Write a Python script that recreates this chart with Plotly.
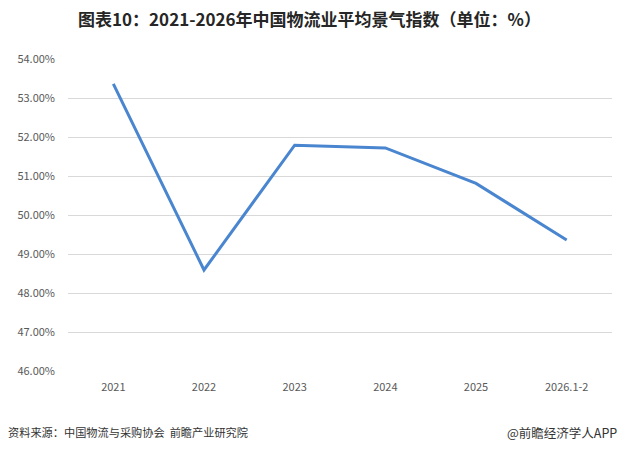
import plotly.graph_objects as go

categories = ["2021", "2022", "2023", "2024", "2025", "2026.1-2"]
values = [53.36, 48.59, 51.79, 51.72, 50.81, 49.36]
y_ticks = [46, 47, 48, 49, 50, 51, 52, 53, 54]
y_tick_labels = [f"{v:.2f}%" for v in y_ticks]

FONT = "Noto Sans CJK SC"

fig = go.Figure()
fig.add_trace(go.Scatter(
    x=categories, y=values, mode="lines",
    line=dict(color="#4A86D0", width=3),
    hoverinfo="skip",
))

fig.update_layout(
    width=619, height=452,
    margin=dict(l=68, r=7, t=59, b=81),
    paper_bgcolor="white", plot_bgcolor="white",
    showlegend=False,
    font=dict(family=FONT, color="#595959", size=11),
    title=dict(
        text="<b>图表10：2021-2026年中国物流业平均景气指数（单位：%）</b>",
        x=0.5, xanchor="center", y=0.955, yanchor="middle",
        font=dict(family=FONT, size=17, color="#262626"),
    ),
    xaxis=dict(
        type="category", range=[-0.5, 5.5], automargin=False,
        showgrid=False, zeroline=False,
        showline=False, ticks="", tickfont=dict(size=11, color="#595959"),
        ticklabelstandoff=8,
    ),
    yaxis=dict(
        range=[46, 54], tickvals=y_ticks, ticktext=y_tick_labels,
        automargin=False,
        showgrid=True, gridcolor="#D9D9D9", gridwidth=1,
        zeroline=False, showline=False, ticks="",
        tickfont=dict(size=11, color="#595959"),
        ticklabelstandoff=12,
    ),
    annotations=[
        dict(text="资料来源：中国物流与采购协会  前瞻产业研究院",
             xref="paper", yref="paper", x=-62/544, y=-61/312,
             xanchor="left", yanchor="middle", showarrow=False,
             font=dict(family=FONT, size=11.2, color="#333333")),
        dict(text="@前瞻经济学人APP",
             xref="paper", yref="paper", x=1 + 7/544, y=-61/312,
             xanchor="right", yanchor="middle", showarrow=False,
             font=dict(family=FONT, size=12.5, color="#333333")),
    ],
)

fig.write_html("out.html")
